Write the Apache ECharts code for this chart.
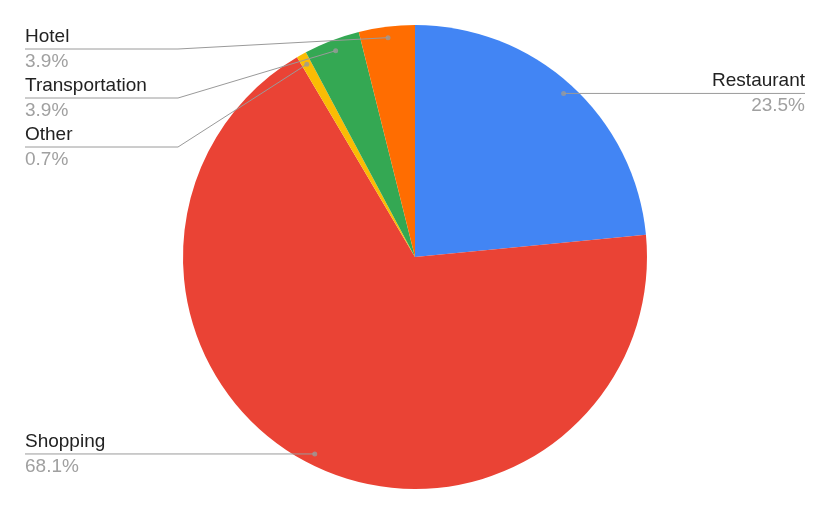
<!DOCTYPE html>
<html><head><meta charset="utf-8">
<script src="https://cdn.jsdelivr.net/npm/echarts@6/dist/echarts.min.js"></script>
<style>html,body{margin:0;padding:0;background:#fff}#c{width:830px;height:514px}</style>
</head><body><div id="c"></div>
<script>
const categories = ['Restaurant', 'Shopping', 'Other', 'Transportation', 'Hotel'];
const shares = [23.5, 68.1, 0.7, 3.9, 3.9];
const colors = ['#4285F4', '#EA4335', '#FBBC04', '#34A853', '#FF6D01'];

const CX = 415, CY = 257, R = 232, RA = 221;
const LEFT_X = 25, RIGHT_X = 805, BEND_X = 178, TOP_Y = 49, GAP = 49;
const FONT = '"Liberation Sans", Arial, sans-serif';

const total = shares.reduce((a, b) => a + b, 0);
const mids = [];
let cum = 0;
shares.forEach(v => { mids.push(cum + v / 2); cum += v; });

// label anchors derived from the same angular scale as the pie
const layout = categories.map((c, i) => {
  const a = mids[i] / total * 2 * Math.PI;
  return { ax: CX + RA * Math.sin(a), ay: CY - RA * Math.cos(a) };
});
function stack(idx) {
  idx.sort((a, b) => layout[a].ay - layout[b].ay);
  let prev = -Infinity;
  idx.forEach(i => {
    const y = Math.max(layout[i].ay, TOP_Y, prev + GAP);
    layout[i].y = y; prev = y;
  });
}
const leftIdx = [], rightIdx = [];
layout.forEach((L, i) => (L.ax < CX ? leftIdx : rightIdx).push(i));
stack(leftIdx); stack(rightIdx);
leftIdx.forEach(i => {
  const L = layout[i];
  L.tx = LEFT_X; L.align = 'left';
  L.pts = [[L.ax, L.ay], [Math.min(BEND_X, L.ax), L.y], [LEFT_X, L.y]];
});
rightIdx.forEach(i => {
  const L = layout[i];
  L.tx = RIGHT_X; L.align = 'right';
  L.pts = [[L.ax, L.ay], [Math.max(L.ax, 652), L.y], [RIGHT_X, L.y]];
});

const chart = echarts.init(document.getElementById('c'), null, { renderer: 'canvas' });
chart.setOption({
  animation: false,
  backgroundColor: '#ffffff',
  polar: { center: [CX, CY], radius: RA },
  angleAxis: { type: 'value', min: 0, max: total, startAngle: 90, clockwise: true, show: false },
  radiusAxis: { type: 'value', min: 0, max: 1, show: false },
  series: [
    {
      type: 'pie',
      center: [CX, CY],
      radius: R,
      startAngle: 90,
      clockwise: true,
      silent: true,
      label: { show: false },
      labelLine: { show: false },
      itemStyle: { borderWidth: 0 },
      data: categories.map((n, i) => ({ name: n, value: shares[i], itemStyle: { color: colors[i] } }))
    },
    {
      type: 'pie',
      center: [CX, CY],
      radius: RA,
      startAngle: 90,
      clockwise: true,
      silent: true,
      z: 3,
      avoidLabelOverlap: false,
      itemStyle: { color: 'rgba(0,0,0,0)', borderWidth: 0 },
      label: {
        show: true,
        position: 'outside',
        formatter: p => '{n|' + p.name + '}\n{p|' + p.value + '%}',
        rich: {
          n: { fontSize: 19, color: '#222222', lineHeight: 25, fontFamily: FONT },
          p: { fontSize: 19, color: '#a0a0a0', lineHeight: 25, fontFamily: FONT }
        }
      },
      labelLine: { show: true, length: 10, length2: 10, lineStyle: { color: '#9a9a9a', width: 1 } },
      labelLayout: p => {
        const L = layout[p.dataIndex];
        return { x: L.tx, y: L.y, align: L.align, verticalAlign: 'middle', labelLinePoints: L.pts };
      },
      data: categories.map((n, i) => ({ name: n, value: shares[i], label: { align: layout[i].align } }))
    },
    {
      type: 'scatter',
      coordinateSystem: 'polar',
      silent: true,
      z: 4,
      symbol: 'circle',
      symbolSize: 5,
      itemStyle: { color: '#9a9a9a' },
      data: mids.map(m => [1, m])
    }
  ]
});
</script></body></html>
